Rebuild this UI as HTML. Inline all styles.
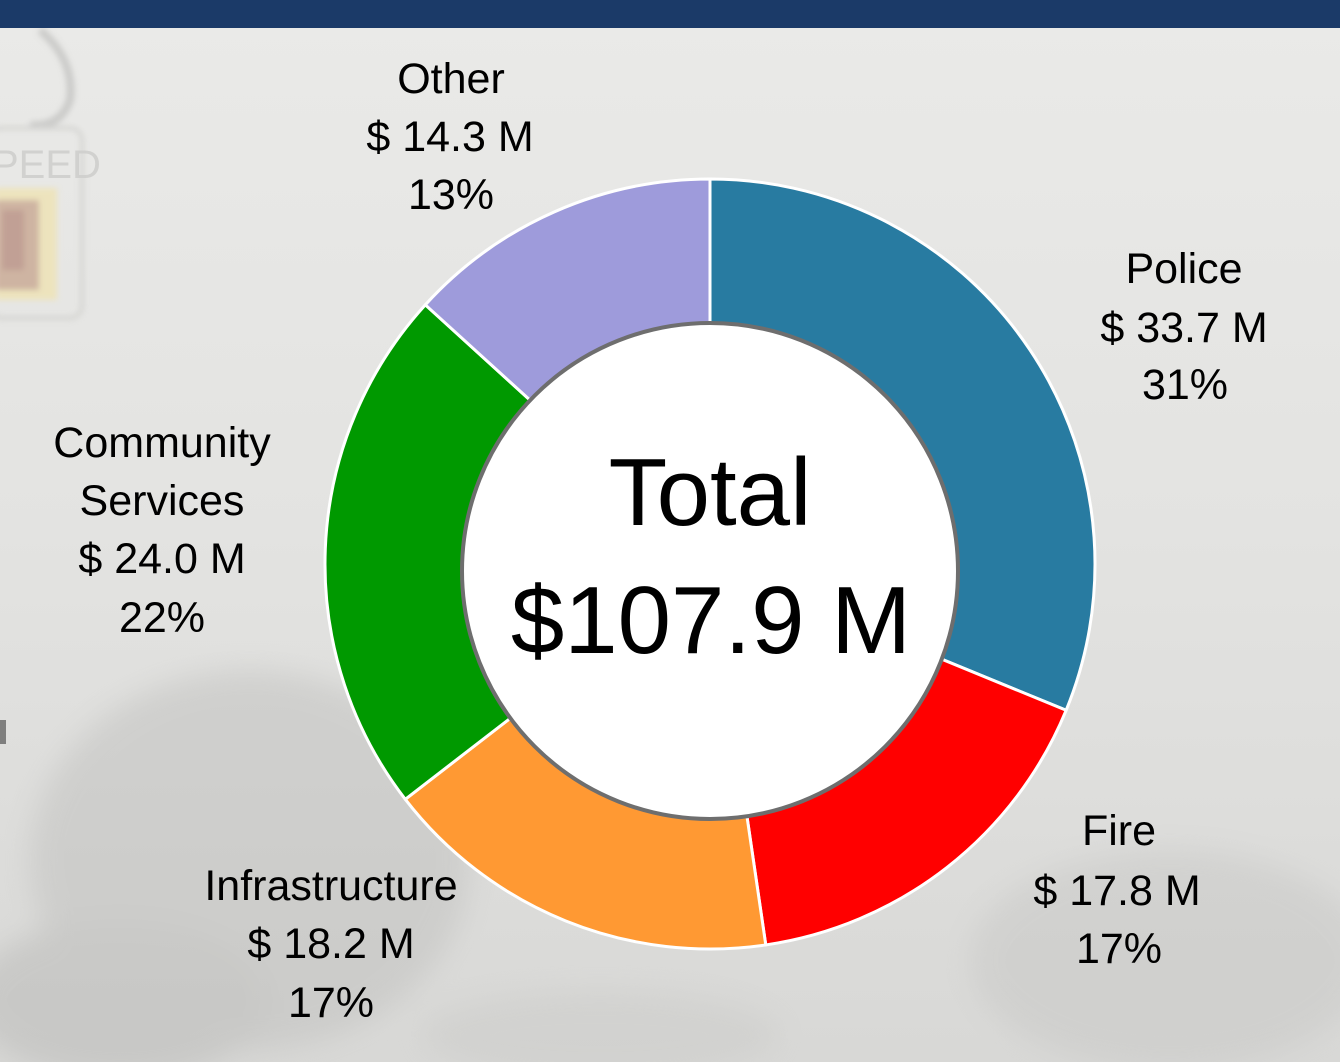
<!DOCTYPE html>
<html>
<head>
<meta charset="utf-8">
<style>
  html,body{margin:0;padding:0;}
  body{width:1340px;height:1062px;overflow:hidden;background:#e4e4e2;}
  svg{display:block;}
  text{font-family:"Liberation Sans", Arial, sans-serif;fill:#000;}
</style>
</head>
<body>
<svg width="1340" height="1062" viewBox="0 0 1340 1062" xmlns="http://www.w3.org/2000/svg">
  <defs>
    <linearGradient id="bg" x1="0" y1="0" x2="0" y2="1">
      <stop offset="0" stop-color="#eaeae8"/>
      <stop offset="0.5" stop-color="#e3e3e1"/>
      <stop offset="1" stop-color="#d8d8d6"/>
    </linearGradient>
    <filter id="blur" x="-20%" y="-20%" width="140%" height="140%">
      <feGaussianBlur stdDeviation="14"/>
    </filter>
    <filter id="blur2" x="-20%" y="-20%" width="140%" height="140%">
      <feGaussianBlur stdDeviation="3"/>
    </filter>
  </defs>

  <!-- background -->
  <rect x="0" y="0" width="1340" height="1062" fill="url(#bg)"/>
  <!-- faint photo features -->
  <g filter="url(#blur)" opacity="0.45">
    <ellipse cx="250" cy="860" rx="220" ry="190" fill="#bdbdbb"/>
    <ellipse cx="120" cy="1000" rx="150" ry="80" fill="#b5b5b3"/>
    <ellipse cx="1170" cy="960" rx="200" ry="110" fill="#c6c6c4"/>
    <ellipse cx="600" cy="1035" rx="180" ry="45" fill="#cacac8"/>
  </g>
  <!-- speed sign remnants, top-left -->
  <g filter="url(#blur2)" opacity="0.8">
    <path d="M 40 30 Q 75 60 70 100 Q 60 128 30 125" fill="none" stroke="#c4c4c2" stroke-width="8"/>
    <rect x="-10" y="128" width="92" height="190" rx="12" fill="none" stroke="#d0d0ce" stroke-width="4"/>
    <rect x="-5" y="188" width="62" height="112" fill="#efe3b4"/>
    <rect x="-5" y="200" width="44" height="90" fill="#c9a892"/>
    <rect x="2" y="210" width="22" height="60" fill="#b88f82"/>
  </g>
  <text x="-8" y="178" style="font-size:40px;fill:#cfcfcd" opacity="0.9">PEED</text>
  <rect x="0" y="720" width="6" height="24" fill="#555" opacity="0.7"/>

  <!-- top bar -->
  <rect x="0" y="0" width="1340" height="28" fill="#1b3a68"/>

  <!-- donut wedges -->
  <g stroke="#ffffff" stroke-width="3" stroke-linejoin="round">
    <path d="M710 564 L710 179 A385 385 0 0 1 1066.13 710.28 Z" fill="#287ba1"/>
    <path d="M710 564 L1066.13 710.28 A385 385 0 0 1 765.78 944.94 Z" fill="#ff0000"/>
    <path d="M710 564 L765.78 944.94 A385 385 0 0 1 405.28 799.31 Z" fill="#ff9933"/>
    <path d="M710 564 L405.28 799.31 A385 385 0 0 1 425.31 304.81 Z" fill="#009900"/>
    <path d="M710 564 L425.31 304.81 A385 385 0 0 1 710 179 Z" fill="#9e9bdb"/>
  </g>

  <!-- center circle -->
  <circle cx="710" cy="571" r="248" fill="#ffffff" stroke="#6e6e6e" stroke-width="4"/>

  <!-- center text -->
  <text x="710" y="525" text-anchor="middle" style="font-size:96px">Total</text>
  <text x="711" y="653" text-anchor="middle" style="font-size:96px">$107.9 M</text>

  <!-- labels -->
  <g style="font-size:43px" text-anchor="middle">
    <text x="451" y="93" text-anchor="middle">Other</text>
    <text x="450" y="151" text-anchor="middle">$ 14.3 M</text>
    <text x="451" y="209" text-anchor="middle">13%</text>

    <text x="1184" y="283" text-anchor="middle">Police</text>
    <text x="1184" y="342" text-anchor="middle">$ 33.7 M</text>
    <text x="1185" y="399" text-anchor="middle">31%</text>

    <text x="1119" y="845" text-anchor="middle">Fire</text>
    <text x="1117" y="905" text-anchor="middle">$ 17.8 M</text>
    <text x="1119" y="963" text-anchor="middle">17%</text>

    <text x="331" y="900" text-anchor="middle">Infrastructure</text>
    <text x="331" y="958" text-anchor="middle">$ 18.2 M</text>
    <text x="331" y="1017" text-anchor="middle">17%</text>

    <text x="162" y="457" text-anchor="middle">Community</text>
    <text x="162" y="515" text-anchor="middle">Services</text>
    <text x="162" y="573" text-anchor="middle">$ 24.0 M</text>
    <text x="162" y="632" text-anchor="middle">22%</text>
  </g>
</svg>
</body>
</html>
